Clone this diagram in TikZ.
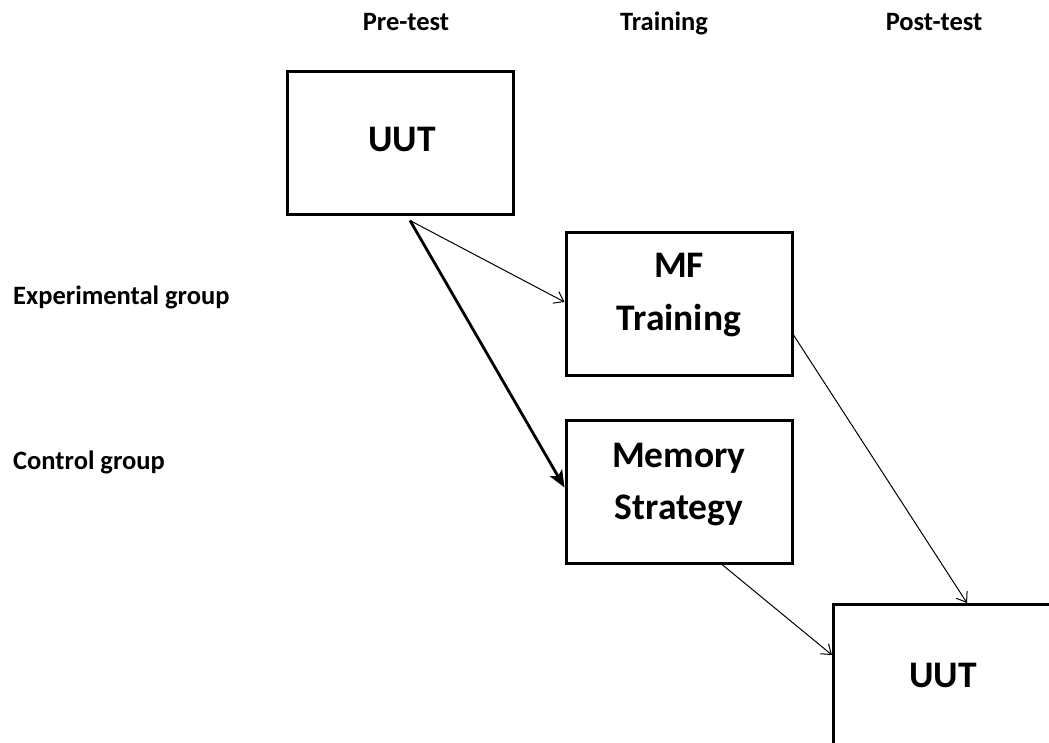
\documentclass[tikz,border=0pt]{standalone}
\usepackage{fontspec}
\setmainfont{Carlito}
\usetikzlibrary{arrows.meta}

\tikzset{
  stage/.style={draw=black, line width=3pt, fill=white, rectangle,
    minimum width=226pt, minimum height=143pt, inner sep=0pt},
  boxtext/.style={font=\bfseries\fontsize{37.5}{52}\selectfont, align=center,
    inner sep=0pt, anchor=base},
  head/.style={font=\bfseries\fontsize{26.5}{30}\selectfont, inner sep=0pt, anchor=base},
  side/.style={font=\bfseries\fontsize{26.5}{30}\selectfont, inner sep=0pt, anchor=base west},
  thinarrow/.style={line width=1pt, -{Straight Barb[length=9pt,width=13pt,line width=1pt]}},
  thickarrow/.style={line width=2.8pt, -{Stealth[length=17pt,width=14pt,inset=4pt]}}
}

\begin{document}
\begin{tikzpicture}[x=1pt,y=-1pt]
  \useasboundingbox (0,0) rectangle (1049,743);
  \clip (0,0) rectangle (1049,743);

  % column and row headings
  \node[head] (hpre)   at (406,31) {Pre-test};
  \node[head] (htrain) at (664,31) {Training};
  \node[head] (hpost)  at (934,31) {Post-test};
  \node[side] (gexp)   at (13,304) {Experimental group};
  \node[side] (gctl)   at (13,469) {Control group};

  % boxes
  \node[stage] (pre)  at (400,143.5) {};
  \node[stage] (mf)   at (679,304)   {};
  \node[stage] (mem)  at (679,491.5) {};
  \node[stage, anchor=north west] (post) at (832,603) {};

  % box captions (base anchor sits on the last line)
  \node[boxtext] (pret)  at (402,152) {UUT};
  \node[boxtext] (mft)   at (679,330) {MF\\Training};
  \node[boxtext] (memt)  at (679,519) {Memory\\Strategy};
  \node[boxtext] (postt) at (943,687) {UUT};

  % connectors
  \draw[thinarrow]  ([xshift=10pt,yshift=-4pt]pre.south) -- ([yshift=2pt]mf.west);
  \draw[thickarrow] ([xshift=10pt,yshift=-4pt]pre.south) -- ([yshift=4pt]mem.west);
  \draw[thinarrow]  ([yshift=-31pt]mf.east) -- ([xshift=135pt]post.north west);
  \draw[thinarrow]  ([xshift=43pt]mem.south) -- ([yshift=-52pt]post.north west);
\end{tikzpicture}
\end{document}
